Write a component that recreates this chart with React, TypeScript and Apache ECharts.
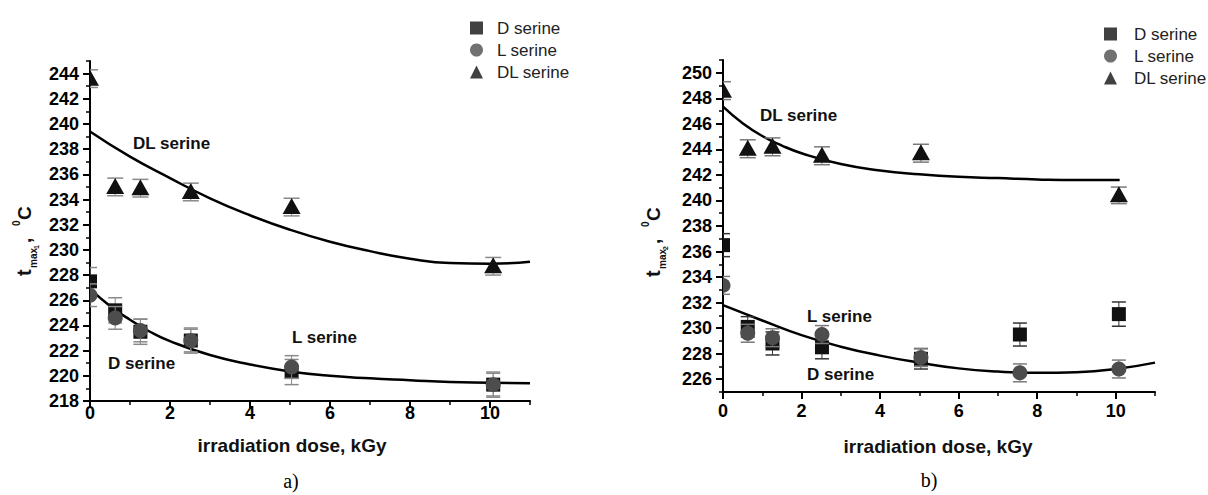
import React, { useEffect, useRef } from 'react';
import * as echarts from 'echarts';

// ---------- data: panel a) ----------
const doseA = [0, 0.63, 1.26, 2.52, 5.04, 10.08];
const tA_D = [227.5, 225.2, 223.5, 222.8, 220.3, 219.3];
const errA_D = [1.1, 1.0, 1.0, 1.0, 1.0, 1.0];
const tA_L = [226.4, 224.6, 223.6, 222.8, 220.7, 219.3];
const errA_L = [0.9, 0.9, 0.9, 0.9, 0.9, 0.9];
const tA_DL = [243.6, 235.0, 234.9, 234.6, 233.4, 228.7];
const errA_DL = [0.7, 0.7, 0.7, 0.7, 0.7, 0.7];

const fitA_DL_x = [0, 1, 2, 3, 4, 5, 6, 7, 8, 9, 10, 11];
const fitA_DL_y = [239.4, 237.4, 235.7, 234.1, 232.75, 231.6, 230.65, 229.9, 229.3, 228.95, 228.9, 229.05];
const fitA_low_x = [0, 0.5, 1, 1.5, 2, 3, 4, 5, 6, 7, 8, 9, 10, 11];
const fitA_low_y = [226.9, 225.55, 224.45, 223.5, 222.75, 221.65, 220.9, 220.35, 220.0, 219.8, 219.65, 219.5, 219.45, 219.4];

// ---------- data: panel b) ----------
const doseB = [0, 0.63, 1.26, 2.52, 5.04, 7.56, 10.08];
const tB_D = [236.5, 230.1, 228.8, 228.5, 227.6, 229.5, 231.1];
const errB_D = [0.9, 0.8, 0.9, 0.9, 0.8, 0.9, 0.95];
const tB_L = [233.35, 229.6, 229.25, 229.5, 227.7, 226.5, 226.8];
const errB_L = [0.7, 0.7, 0.7, 0.7, 0.7, 0.7, 0.7];
const doseB_DL = [0, 0.63, 1.26, 2.52, 5.04, 10.08];
const tB_DL = [248.6, 244.05, 244.2, 243.5, 243.7, 240.4];
const errB_DL = [0.7, 0.7, 0.7, 0.7, 0.7, 0.65];

const fitB_DL_x = [0, 0.5, 1, 1.5, 2, 3, 4, 5, 6, 7, 8, 9, 10.1];
const fitB_DL_y = [247.35, 246.05, 245.05, 244.3, 243.7, 242.85, 242.35, 242.05, 241.85, 241.75, 241.65, 241.6, 241.6];
const fitB_low_x = [0, 1, 2, 3, 4, 5, 6, 7, 8, 9, 10, 11];
const fitB_low_y = [231.8, 230.6, 229.45, 228.55, 227.85, 227.3, 226.85, 226.6, 226.5, 226.55, 226.8, 227.3];

// ---------- ticks ----------
const xMajor = [0, 2, 4, 6, 8, 10];
const xMinor = [1, 3, 5, 7, 9, 11];
const yMajorA = [218, 220, 222, 224, 226, 228, 230, 232, 234, 236, 238, 240, 242, 244];
const yMinorA = [219, 221, 223, 225, 227, 229, 231, 233, 235, 237, 239, 241, 243, 245];
const yMajorB = [226, 228, 230, 232, 234, 236, 238, 240, 242, 244, 246, 248, 250];
const yMinorB = [225, 227, 229, 231, 233, 235, 237, 239, 241, 243, 245, 247, 249, 251];

const legendNames = ['D serine', 'L serine', 'DL serine'];

const FONT = "'Liberation Sans', Arial, Helvetica, sans-serif";
const SERIF = "'Liberation Serif', 'Times New Roman', serif";
const BLACK = '#111111';
const GRAY = '#4d4d4d';

type Shape = 'square' | 'circle' | 'triangle';

function markerSeries(
  name: string, xs: number[], ys: number[], es: number[], gi: number,
  shape: Shape, fill: string, errColor: string, capW: number
) {
  return {
    type: 'custom',
    name,
    xAxisIndex: gi,
    yAxisIndex: gi,
    clip: true,
    z: 5,
    data: xs.map((x, i) => [x, ys[i], es[i]]),
    encode: { x: 0, y: 1 },
    renderItem: (params: any, api: any) => {
      const x = api.value(0);
      const y = api.value(1);
      const e = api.value(2);
      const c = api.coord([x, y]);
      const t = api.coord([x, y + e]);
      const b = api.coord([x, y - e]);
      const hw = capW / 2;
      const children: any[] = [
        { type: 'line', shape: { x1: c[0], y1: t[1], x2: c[0], y2: b[1] }, style: { stroke: errColor, lineWidth: 1 } },
        { type: 'line', shape: { x1: c[0] - hw, y1: t[1], x2: c[0] + hw, y2: t[1] }, style: { stroke: errColor, lineWidth: 1.5 } },
        { type: 'line', shape: { x1: c[0] - hw, y1: b[1], x2: c[0] + hw, y2: b[1] }, style: { stroke: errColor, lineWidth: 1.5 } },
      ];
      if (shape === 'square') {
        children.push({ type: 'rect', shape: { x: c[0] - 7, y: c[1] - 7, width: 14, height: 14 }, style: { fill } });
      } else if (shape === 'circle') {
        children.push({ type: 'circle', shape: { cx: c[0], cy: c[1], r: 7.5 }, style: { fill } });
      } else {
        children.push({
          type: 'polygon',
          shape: { points: [[c[0], c[1] - 9], [c[0] - 9, c[1] + 7], [c[0] + 9, c[1] + 7]] },
          style: { fill },
        });
      }
      return { type: 'group', children };
    },
  };
}

function fitSeries(xs: number[], ys: number[], gi: number) {
  return {
    type: 'line',
    xAxisIndex: gi,
    yAxisIndex: gi,
    data: xs.map((x, i) => [x, ys[i]]),
    smooth: true,
    symbol: 'none',
    clip: true,
    z: 3,
    silent: true,
    lineStyle: { color: '#000', width: 2.5 },
  };
}

function majorX(gi: number, margin: number) {
  return {
    gridIndex: gi, type: 'value', min: 0, max: 11, position: 'bottom',
    axisLine: { show: true, onZero: false, lineStyle: { color: '#000', width: 2 } },
    axisTick: { show: true, length: 7, customValues: xMajor, lineStyle: { color: '#000', width: 2 } },
    axisLabel: { customValues: xMajor, margin, fontSize: 18, fontWeight: 'bold', color: '#000', fontFamily: FONT },
    splitLine: { show: false },
  };
}
function minorX(gi: number) {
  return {
    gridIndex: gi, type: 'value', min: 0, max: 11, position: 'bottom',
    axisLine: { show: false, onZero: false },
    axisTick: { show: true, length: 4, customValues: xMinor, lineStyle: { color: '#000', width: 1.5 } },
    axisLabel: { show: false },
    splitLine: { show: false },
  };
}
function majorY(gi: number, min: number, max: number, vals: number[]) {
  return {
    gridIndex: gi, type: 'value', min, max, position: 'left',
    axisLine: { show: true, onZero: false, lineStyle: { color: '#000', width: 2 } },
    axisTick: { show: true, length: 7, customValues: vals, lineStyle: { color: '#000', width: 2 } },
    axisLabel: { customValues: vals, margin: 11, fontSize: 18, fontWeight: 'bold', color: '#000', fontFamily: FONT },
    splitLine: { show: false },
  };
}
function minorY(gi: number, min: number, max: number, vals: number[]) {
  return {
    gridIndex: gi, type: 'value', min, max, position: 'left',
    axisLine: { show: false, onZero: false },
    axisTick: { show: true, length: 4, customValues: vals, lineStyle: { color: '#000', width: 1.5 } },
    axisLabel: { show: false },
    splitLine: { show: false },
  };
}

function yTitle(bx: number, by: number, idx: string) {
  const bold = { fontWeight: 'bold', fontFamily: FONT, fill: '#111', align: 'left', verticalAlign: 'middle' };
  return {
    type: 'group',
    x: bx,
    y: by,
    rotation: Math.PI / 2,
    children: [
      { type: 'text', x: 2, y: -6.6, style: { ...bold, text: 't', fontSize: 20 } },
      { type: 'text', x: 10, y: 2.5, style: { ...bold, text: 'max', fontSize: 10 } },
      { type: 'text', x: 29, y: 5.5, style: { ...bold, text: idx, fontSize: 7 } },
      { type: 'text', x: 35, y: -6.6, style: { ...bold, text: ',', fontSize: 19 } },
      { type: 'text', x: 52, y: -15, style: { ...bold, text: '0', fontSize: 10 } },
      { type: 'text', x: 58, y: -6.6, style: { ...bold, text: 'C', fontSize: 19 } },
    ],
  };
}

function label(x: number, y: number, text: string, size = 17) {
  return {
    type: 'text', x, y,
    style: { text, fontSize: size, fontWeight: 'bold', fontFamily: FONT, fill: '#111', align: 'left', verticalAlign: 'middle' },
  };
}

export default function App() {
  const ref = useRef<HTMLDivElement>(null);
  useEffect(() => {
    if (!ref.current) return;
    const chart = echarts.init(ref.current, null, { renderer: 'svg' });
    const legendBase = {
      orient: 'vertical', itemWidth: 13, itemHeight: 13, itemGap: 0,
      selectedMode: false, data: legendNames,
    };
    chart.setOption({
      animation: false,
      backgroundColor: '#ffffff',
      grid: [
        { left: 90, top: 61, width: 440, height: 340 },
        { left: 723, top: 60, width: 432, height: 332 },
      ],
      xAxis: [majorX(0, 3), majorX(1, 10), minorX(0), minorX(1)],
      yAxis: [
        majorY(0, 218, 245, yMajorA),
        majorY(1, 225, 251, yMajorB),
        minorY(0, 218, 245, yMinorA),
        minorY(1, 225, 251, yMinorB),
      ],
      legend: [
        { ...legendBase, left: 465, top: 12, textStyle: { fontSize: 17, fontFamily: FONT, color: '#222', lineHeight: 22, padding: [0, 0, 0, 9] } },
        { ...legendBase, left: 1099, top: 18, textStyle: { fontSize: 17, fontFamily: FONT, color: '#222', lineHeight: 22, padding: [0, 0, 0, 12] } },
      ],
      series: [
        { type: 'scatter', name: 'D serine', data: [], symbol: 'rect', itemStyle: { color: BLACK }, xAxisIndex: 0, yAxisIndex: 0 },
        { type: 'scatter', name: 'L serine', data: [], symbol: 'circle', itemStyle: { color: GRAY }, xAxisIndex: 0, yAxisIndex: 0 },
        { type: 'scatter', name: 'DL serine', data: [], symbol: 'triangle', itemStyle: { color: BLACK }, xAxisIndex: 0, yAxisIndex: 0 },
        fitSeries(fitA_DL_x, fitA_DL_y, 0),
        fitSeries(fitA_low_x, fitA_low_y, 0),
        fitSeries(fitB_DL_x, fitB_DL_y, 1),
        fitSeries(fitB_low_x, fitB_low_y, 1),
        markerSeries('a: D serine', doseA, tA_D, errA_D, 0, 'square', BLACK, '#8a8a8a', 14),
        markerSeries('a: L serine', doseA, tA_L, errA_L, 0, 'circle', GRAY, '#8a8a8a', 14),
        markerSeries('a: DL serine', doseA, tA_DL, errA_DL, 0, 'triangle', BLACK, '#8a8a8a', 16),
        markerSeries('b: D serine', doseB, tB_D, errB_D, 1, 'square', BLACK, '#333333', 14),
        markerSeries('b: L serine', doseB, tB_L, errB_L, 1, 'circle', GRAY, '#7a7a7a', 14),
        markerSeries('b: DL serine', doseB_DL, tB_DL, errB_DL, 1, 'triangle', BLACK, '#7a7a7a', 16),
      ],
      graphic: [
        label(133, 143, 'DL serine'),
        label(108, 363, 'D serine'),
        label(292, 337, 'L serine'),
        label(760, 115, 'DL serine'),
        label(807, 316, 'L serine'),
        label(807, 374, 'D serine'),
        {
          type: 'text', x: 292, y: 445,
          style: { text: 'irradiation dose, kGy', fontSize: 19, fontWeight: 'bold', fontFamily: FONT, fill: '#111', align: 'center', verticalAlign: 'middle' },
        },
        {
          type: 'text', x: 938, y: 446,
          style: { text: 'irradiation dose, kGy', fontSize: 19, fontWeight: 'bold', fontFamily: FONT, fill: '#111', align: 'center', verticalAlign: 'middle' },
        },
        {
          type: 'text', x: 291, y: 481,
          style: { text: 'a)', fontSize: 20, fontFamily: SERIF, fill: '#000', align: 'center', verticalAlign: 'middle' },
        },
        {
          type: 'text', x: 929, y: 480,
          style: { text: 'b)', fontSize: 20, fontFamily: SERIF, fill: '#000', align: 'center', verticalAlign: 'middle' },
        },
        yTitle(31, 278, '1'),
        yTitle(660, 279, '2'),
      ],
    });
    return () => chart.dispose();
  }, []);
  return (
    <div
      ref={ref}
      style={{ position: 'absolute', left: 0, top: 0, width: 1208, height: 495, background: '#fff' }}
    />
  );
}
